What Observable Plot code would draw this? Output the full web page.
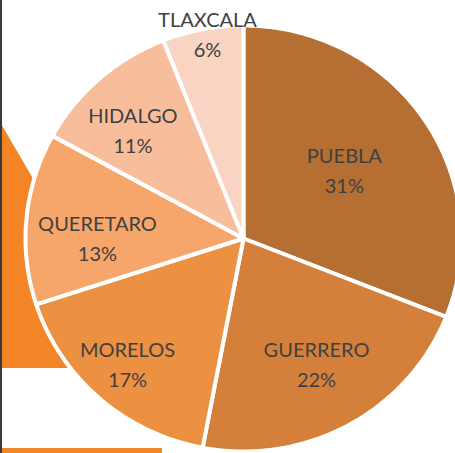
<!DOCTYPE html>
<html>
<head>
<meta charset="utf-8">
<script src="https://cdn.jsdelivr.net/npm/d3@7"></script>
<script src="https://cdn.jsdelivr.net/npm/@observablehq/plot@0.6"></script>
<style>
  html, body { margin: 0; padding: 0; background: #fff; }
  #wrap { position: relative; width: 455px; height: 453px; overflow: hidden; }
  .deco { position: absolute; }
  #chart { position: absolute; left: 0; top: 0; }
  #chart svg { background: transparent; }
</style>
</head>
<body>
<div id="wrap">
  <div class="deco" style="left:0;top:0;width:140px;height:368px;background:#F48527;clip-path:polygon(0 122px,140px 362px,140px 368px,0 368px);"></div>
  <div class="deco" style="left:2px;top:448px;width:160px;height:5px;background:#F0862A;"></div>
  <div class="deco" style="left:0;top:0;width:2px;height:453px;background:#3a3a3a;"></div>
  <div id="chart"></div>
</div>
<script>
// Data
const states = ["PUEBLA", "GUERRERO", "MORELOS", "QUERETARO", "HIDALGO", "TLAXCALA"];
const shares = [31, 22, 17, 13, 11, 6];
const colors = ["#B56F33", "#D4803B", "#EC9142", "#F7A66B", "#F8BE9C", "#F9D4C3"];
// label placement: distance from centre (fraction of radius) and turn from the slice bisector (degrees)
const labelFrac = [0.569, 0.672, 0.789, 0.670, 0.724, 0.981];
const labelTurn = [-1.4, -1.1, 1.0, -4.4, -3.1, 1.1];

const total = d3.sum(shares);
let acc = 0;
const slices = states.map((s, i) => {
  const a0 = acc / total * 2 * Math.PI;
  acc += shares[i];
  const a1 = acc / total * 2 * Math.PI;
  return {name: s, value: shares[i], a0, a1, i};
});

// Polygon outline for each slice (angles clockwise from 12 o'clock)
const pts = [];
for (const s of slices) {
  pts.push({name: s.name, x: 0, y: 0});
  const n = Math.max(2, Math.ceil((s.a1 - s.a0) / (Math.PI / 180)));
  for (let k = 0; k <= n; k++) {
    const a = s.a0 + (s.a1 - s.a0) * k / n;
    pts.push({name: s.name, x: Math.sin(a), y: Math.cos(a)});
  }
}

const labels = slices.map(s => {
  const m = (s.a0 + s.a1) / 2 + labelTurn[s.i] * Math.PI / 180;
  const f = labelFrac[s.i];
  return {name: s.name, text: s.name + "\n" + s.value + "%", x: f * Math.sin(m), y: f * Math.cos(m)};
});

const chart = Plot.plot({
  width: 455,
  height: 453,
  margin: 0,
  x: {domain: [-1, 1], range: [25, 461], axis: null},
  y: {domain: [-1, 1], range: [451, 25], axis: null},
  color: {domain: states, range: colors},
  style: {background: "transparent"},
  marks: [
    Plot.line(pts, {x: "x", y: "y", z: "name", fill: "name", stroke: "white", strokeWidth: 4, strokeLinejoin: "round", curve: "linear-closed"}),
    Plot.text(labels, {x: "x", y: "y", text: "text", fill: "#404040", fontSize: 20, fontFamily: "Lato", lineHeight: 1.5, textAnchor: "middle"})
  ]
});
document.getElementById("chart").appendChild(chart);
</script>
</body>
</html>
